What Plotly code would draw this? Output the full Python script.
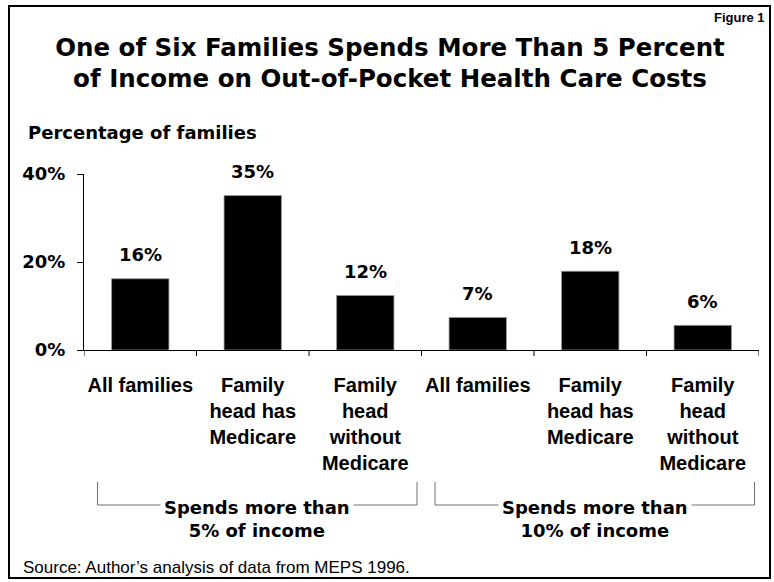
import plotly.graph_objects as go

# ---- data ----
category_keys = ["all_5", "medicare_5", "nomedicare_5", "all_10", "medicare_10", "nomedicare_10"]
category_labels = [
    "All families",
    "Family<br>head has<br>Medicare",
    "Family<br>head<br>without<br>Medicare",
    "All families",
    "Family<br>head has<br>Medicare",
    "Family<br>head<br>without<br>Medicare",
]
values = [16.2, 35.1, 12.4, 7.4, 17.9, 5.6]
value_labels = ["16%", "35%", "12%", "7%", "18%", "6%"]
group_labels = ["Spends more than<br>5% of income", "Spends more than<br>10% of income"]
group_members = [[0, 1, 2], [3, 4, 5]]
y_ticks = [0, 20, 40]

title_text = "One of Six Families Spends More Than 5 Percent<br>of Income on Out-of-Pocket Health Care Costs"
y_title = "Percentage of families"
figure_tag = "Figure 1"
source_text = "Source: Author\u2019s analysis of data from MEPS 1996."

W, H = 774, 582
L, R, T, B = 84, 15, 174, 232
PW, PH = W - L - R, H - T - B


def px_x(x):
    return (x - L) / PW


def px_y(y):
    return (H - B - y) / PH


BOLD = dict(family="DejaVu Sans", weight="bold", color="black")

fig = go.Figure()
fig.add_trace(go.Bar(
    x=list(range(len(category_keys))),
    y=values,
    marker=dict(color="black", line=dict(color="#9a9a9a", width=0.8)),
    hoverinfo="skip",
    cliponaxis=False,
))

annotations = []
# value labels above bars
for i, (v, t) in enumerate(zip(values, value_labels)):
    annotations.append(dict(x=i, y=v, xref="x", yref="y", text=t, showarrow=False,
                            yanchor="middle", yshift=24, font=dict(size=18, **BOLD)))

shapes = []
# group brackets
y_top, y_bot = px_y(482), px_y(505)
for members, label in zip(group_members, group_labels):
    x0 = members[0] - 0.38
    x1 = members[-1] + 0.46
    shapes.append(dict(type="path", xref="x", yref="paper",
                       path=f"M {x0},{y_top} L {x0},{y_bot} L {x1},{y_bot} L {x1},{y_top}",
                       line=dict(color="#707070", width=1)))
    annotations.append(dict(x=(x0 + x1) / 2, y=px_y(519), xref="x", yref="paper", text=label,
                            showarrow=False, xanchor="center", yanchor="middle",
                            bgcolor="white", borderpad=3,
                            font=dict(size=18, **BOLD)))

# y-axis title
annotations.append(dict(x=px_x(26), y=px_y(132), xref="paper", yref="paper", text=y_title,
                        showarrow=False, xanchor="left", yanchor="middle",
                        font=dict(size=18, **BOLD)))
# figure tag
annotations.append(dict(x=px_x(767), y=px_y(18), xref="paper", yref="paper", text=figure_tag,
                        showarrow=False, xanchor="right", yanchor="middle",
                        font=dict(size=13, family="Liberation Sans", weight="bold", color="black")))
# source
annotations.append(dict(x=px_x(21), y=px_y(567), xref="paper", yref="paper", text=source_text,
                        showarrow=False, xanchor="left", yanchor="middle",
                        font=dict(size=17, family="Liberation Sans", color="black")))

# outer frame
shapes.append(dict(type="rect", xref="paper", yref="paper",
                   x0=px_x(9), x1=px_x(770), y0=px_y(578), y1=px_y(6),
                   line=dict(color="black", width=2)))

# boundary ticks on x axis (between categories)
boundaries = [i - 0.5 for i in range(len(category_keys) + 1)]
for b in boundaries:
    shapes.append(dict(type="line", xref="x", yref="paper", x0=b, x1=b,
                       y0=0, y1=px_y(356), line=dict(color="black", width=1)))

fig.update_layout(
    width=W, height=H,
    margin=dict(l=L, r=R, t=T, b=B),
    paper_bgcolor="white", plot_bgcolor="white",
    showlegend=False,
    bargap=0.49,
    title=dict(text=title_text, x=390 / W, xref="container", xanchor="center",
               y=1 - 55.5 / H, yref="container", yanchor="middle",
               font=dict(size=24.5, **BOLD)),
    annotations=annotations,
    shapes=shapes,
    xaxis=dict(
        type="linear",
        range=[-0.5, len(category_keys) - 0.5],
        tickmode="array",
        tickvals=list(range(len(category_keys))),
        ticktext=category_labels,
        ticks="", showline=True, linecolor="black", linewidth=1,
        showgrid=False, zeroline=False,
        tickfont=dict(size=20, family="Liberation Sans", weight="bold", color="black"),
        ticklabelstandoff=17,
    ),
    yaxis=dict(
        range=[0, 40],
        tickmode="array", tickvals=y_ticks, ticktext=[f"{v}%" for v in y_ticks],
        ticks="outside", ticklen=6, tickcolor="black", tickwidth=1,
        showline=True, linecolor="black", linewidth=1,
        showgrid=False, zeroline=False,
        tickfont=dict(size=18, **BOLD),
        ticklabelstandoff=8,
    ),
)

fig.write_html("out.html", config={"displayModeBar": False},
               post_script="document.body.style.margin='0px';")
